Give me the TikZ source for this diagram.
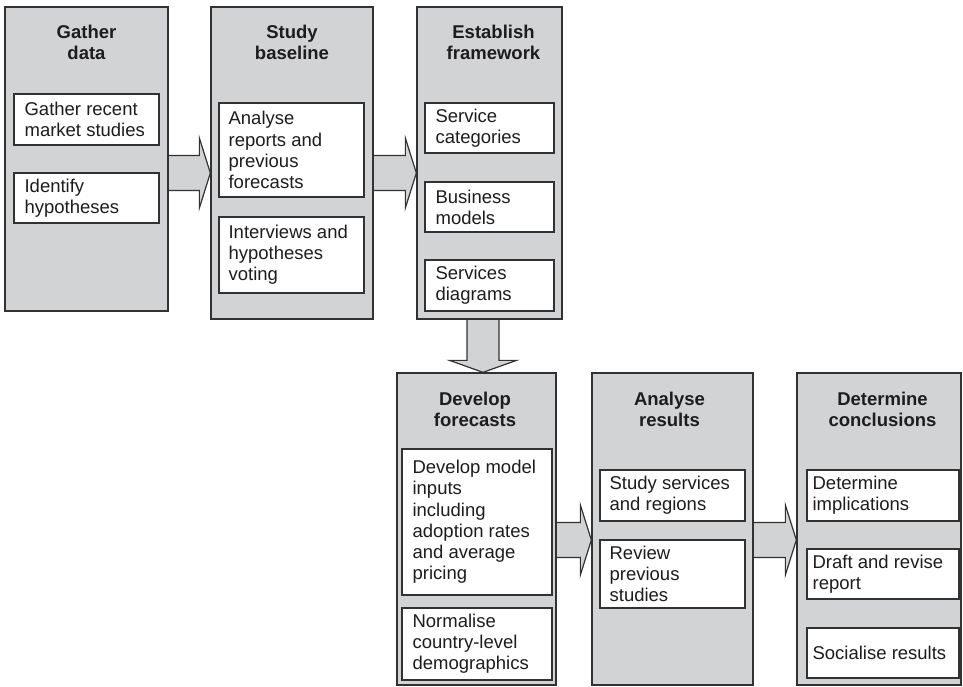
\documentclass[tikz,border=0pt]{standalone}
\usepackage{fontspec}
\setmainfont{Liberation Sans}
\usetikzlibrary{calc,fit,backgrounds}

\definecolor{panel}{RGB}{209,211,212}
\definecolor{edge}{RGB}{50,50,50}
\definecolor{ink}{RGB}{30,28,28}

\tikzset{
  stage/.style={draw=edge, fill=panel, line width=1.3pt, inner sep=0pt},
  cell/.style={draw=edge, fill=white, line width=1.2pt, inner sep=0pt},
  heading/.style={font=\bfseries\fontsize{18.5}{21.2}\selectfont, align=center,
    inner sep=0pt, text=ink},
  body/.style={font=\fontsize{18.5}{21.2}\selectfont, align=left,
    inner sep=0pt, text=ink, anchor=west},
  flow/.style={fill=panel, draw=edge, line width=1.2pt, line join=miter},
}

% horizontal block arrow from the east side of #1 to the west side of #2 at height #3
\newcommand\blockright[3]{%
  \coordinate (#1-#2-s) at (#1.east |- 0,#3);
  \coordinate (#1-#2-e) at (#2.west |- 0,#3);
  \fill[panel] ($(#1-#2-s)+(0,-17.5)$) -- ($(#1-#2-e)+(-11,-17.5)$)
    -- ($(#1-#2-e)+(-11,-35)$) -- (#1-#2-e) -- ($(#1-#2-e)+(-11,35)$)
    -- ($(#1-#2-e)+(-11,17.5)$) -- ($(#1-#2-s)+(0,17.5)$) -- cycle;
  \draw[flow, fill=none] ($(#1-#2-s)+(0,-17.5)$) -- ($(#1-#2-e)+(-11,-17.5)$)
    -- ($(#1-#2-e)+(-11,-35)$) -- (#1-#2-e) -- ($(#1-#2-e)+(-11,35)$)
    -- ($(#1-#2-e)+(-11,17.5)$) -- ($(#1-#2-s)+(0,17.5)$);
}

\begin{document}
\begin{tikzpicture}[x=1pt, y=-1pt]
\useasboundingbox (0,0) rectangle (963,687);

% ---- stages ----
\node[stage, fit={(5,7) (168,311)}] (gather) {};
\node[stage, fit={(211,7) (373,319)}] (study) {};
\node[stage, fit={(417,7) (562,319)}] (frame) {};
\node[stage, fit={(397,373) (556,685)}] (develop) {};
\node[stage, fit={(592,373) (753,685)}] (analyse) {};
\node[stage, fit={(797,373) (961,685)}] (conclude) {};

% ---- stage headings ----
\node[heading] (gatherT) at ([yshift=-36pt]gather.north) {Gather\\data};
\node[heading] (studyT) at ([yshift=-36pt]study.north) {Study\\baseline};
\node[heading] (frameT) at ([xshift=4pt,yshift=-36pt]frame.north) {Establish\\framework};
\node[heading] (developT) at ([xshift=-1.5pt,yshift=-37pt]develop.north) {Develop\\forecasts};
\node[heading] (analyseT) at ([xshift=-3pt,yshift=-37pt]analyse.north) {Analyse\\results};
\node[heading] (concludeT) at ([xshift=3.5pt,yshift=-37pt]conclude.north) {Determine\\conclusions};

% ---- activities ----
\node[cell, fit={(14,94) (159,145)}] (g1) {};
\node[body] (g1t) at ([xshift=11pt]g1.west) {Gather recent\\market studies};
\node[cell, fit={(14,173) (159,223)}] (g2) {};
\node[body] (g2t) at ([xshift=11pt]g2.west) {Identify\\hypotheses};

\node[cell, fit={(219,103) (364,197)}] (s1) {};
\node[body] (s1t) at ([xshift=10pt]s1.west) {Analyse\\reports and\\previous\\forecasts};
\node[cell, fit={(219,217) (364,293)}] (s2) {};
\node[body] (s2t) at ([xshift=10pt]s2.west) {Interviews and\\hypotheses\\voting};

\node[cell, fit={(425,103) (554,153)}] (f1) {};
\node[body] (f1t) at ([xshift=11pt]f1.west) {Service\\categories};
\node[cell, fit={(425,182) (554,232)}] (f2) {};
\node[body] (f2t) at ([xshift=11pt]f2.west) {Business\\models};
\node[cell, fit={(425,260) (554,311)}] (f3) {};
\node[body] (f3t) at ([xshift=11pt]f3.west) {Services\\diagrams};

\node[cell, fit={(402,449) (552,595)}] (d1) {};
\node[body] (d1t) at ([xshift=11pt]d1.west) {Develop model\\inputs\\including\\adoption rates\\and average\\pricing};
\node[cell, fit={(402,608) (552,680)}] (d2) {};
\node[body] (d2t) at ([xshift=11pt]d2.west) {Normalise\\country-level\\demographics};

\node[cell, fit={(600,470) (745,521)}] (a1) {};
\node[body] (a1t) at ([xshift=10pt]a1.west) {Study services\\and regions};
\node[cell, fit={(600,540) (745,608)}] (a2) {};
\node[body] (a2t) at ([xshift=10pt]a2.west) {Review\\previous\\studies};

\node[cell, fit={(807,470) (959,521)}] (c1) {};
\node[body] (c1t) at ([xshift=6pt]c1.west) {Determine\\implications};
\node[cell, fit={(807,549) (959,599)}] (c2) {};
\node[body] (c2t) at ([xshift=6pt]c2.west) {Draft and revise\\report};
\node[cell, fit={(807,628) (959,678)}] (c3) {};
\node[body] (c3t) at ([xshift=6pt]c3.west) {Socialise results};

% ---- block arrows between stages ----
\begin{scope}[on background layer]
  \blockright{gather}{study}{173}
  \blockright{study}{frame}{173}
  \blockright{develop}{analyse}{540}
  \blockright{analyse}{conclude}{540}
  % downward arrow from the framework stage to the forecasting stage
  \coordinate (down-s) at (frame.south -| 483,0);
  \coordinate (down-e) at (develop.north -| 483,0);
  \fill[panel] ($(down-s)+(-16,0)$) -- ($(down-e)+(-16,-12)$) -- ($(down-e)+(-33.5,-12)$)
    -- (down-e) -- ($(down-e)+(33.5,-12)$) -- ($(down-e)+(16,-12)$)
    -- ($(down-s)+(16,0)$) -- cycle;
  \draw[flow, fill=none] ($(down-s)+(-16,0)$) -- ($(down-e)+(-16,-12)$) -- ($(down-e)+(-33.5,-12)$)
    -- (down-e) -- ($(down-e)+(33.5,-12)$) -- ($(down-e)+(16,-12)$)
    -- ($(down-s)+(16,0)$);
\end{scope}
\end{tikzpicture}
\end{document}
